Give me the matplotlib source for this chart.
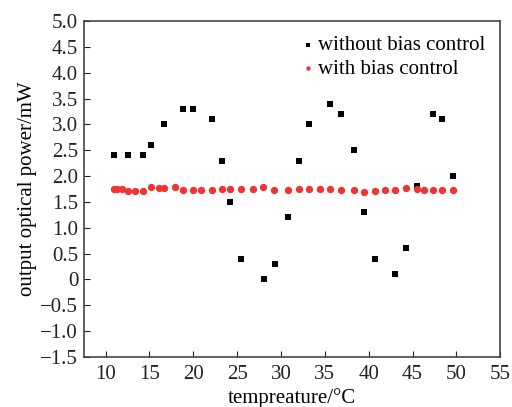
import matplotlib
matplotlib.use("Agg")
import matplotlib.pyplot as plt

plt.rcParams["font.family"] = ["Liberation Serif", "DejaVu Serif"]

# without bias control
temp_off = [11.0, 12.5, 14.3, 15.2, 16.7, 18.8, 20.0, 22.1, 23.3, 24.2, 25.4,
            28.1, 29.3, 30.8, 32.0, 33.2, 35.6, 36.8, 38.3, 39.5, 40.7,
            43.0, 44.3, 45.5, 47.3, 48.4, 49.6]
power_off = [2.4, 2.4, 2.4, 2.6, 3.0, 3.3, 3.3, 3.1, 2.3, 1.5, 0.4,
             0.0, 0.3, 1.2, 2.3, 3.0, 3.4, 3.2, 2.5, 1.3, 0.4,
             0.1, 0.6, 1.8, 3.2, 3.1, 2.0]

# with bias control
temp_on = [11.0, 11.3, 11.9, 12.5, 13.4, 14.3, 15.2, 16.1, 16.7, 17.9, 18.8,
           20.0, 20.9, 22.1, 23.3, 24.2, 25.4, 26.8, 28.0, 29.2, 30.8,
           32.0, 33.2, 34.4, 35.6, 36.8, 38.3, 39.5, 40.7, 41.9, 43.0,
           44.3, 45.5, 46.3, 47.3, 48.4, 49.6]
power_on = [1.75, 1.75, 1.75, 1.72, 1.72, 1.72, 1.78, 1.76, 1.76, 1.78, 1.73,
            1.73, 1.73, 1.73, 1.75, 1.75, 1.75, 1.75, 1.78, 1.73, 1.73,
            1.75, 1.75, 1.75, 1.75, 1.73, 1.73, 1.69, 1.71, 1.74, 1.74,
            1.76, 1.75, 1.74, 1.74, 1.74, 1.74]

x_ticks = [10, 15, 20, 25, 30, 35, 40, 45, 50, 55]
y_ticks = [-1.5, -1.0, -0.5, 0, 0.5, 1.0, 1.5, 2.0, 2.5, 3.0, 3.5, 4.0, 4.5, 5.0]
y_labels = ["\u22121.5", "\u22121.0", "\u22120.5", "0", "0.5", "1.0", "1.5",
            "2.0", "2.5", "3.0", "3.5", "4.0", "4.5", "5.0"]

fig = plt.figure(figsize=(5.12, 4.07), dpi=100)
ax = fig.add_axes([83.7 / 512, 1 - 357 / 407, (500.3 - 83.7) / 512, (357 - 21) / 407])

ax.scatter(temp_off, power_off, marker="s", s=18, color="black", linewidths=0,
           label="without bias control", zorder=2)
ax.scatter(temp_on, power_on, marker="o", s=28, color="#f03434", linewidths=0,
           label="with bias control", zorder=3)

ax.set_xlim(7.5, 55)
ax.set_ylim(-1.5, 5.0)
ax.set_xticks(x_ticks)
ax.set_yticks(y_ticks)
ax.set_yticklabels(y_labels)
ax.tick_params(direction="in", length=4, width=0.8, labelsize=15, colors="#222222",
               top=False, right=False)
ax.tick_params(axis="x", pad=6)
ax.tick_params(axis="y", pad=4)
for sp in ax.spines.values():
    sp.set_color("#444444")
    sp.set_linewidth(1.2)

ax.set_xlabel("tempreature/\u00b0C", fontsize=15, labelpad=3)
ax.set_ylabel("output optical power/mW", fontsize=15, labelpad=2)

leg = ax.legend(loc="upper right", frameon=False, fontsize=15, handletextpad=0.1,
                markerscale=0.6, borderaxespad=0.3, labelspacing=0.2, handlelength=0.8)

fig.savefig("out.png", dpi=100)
